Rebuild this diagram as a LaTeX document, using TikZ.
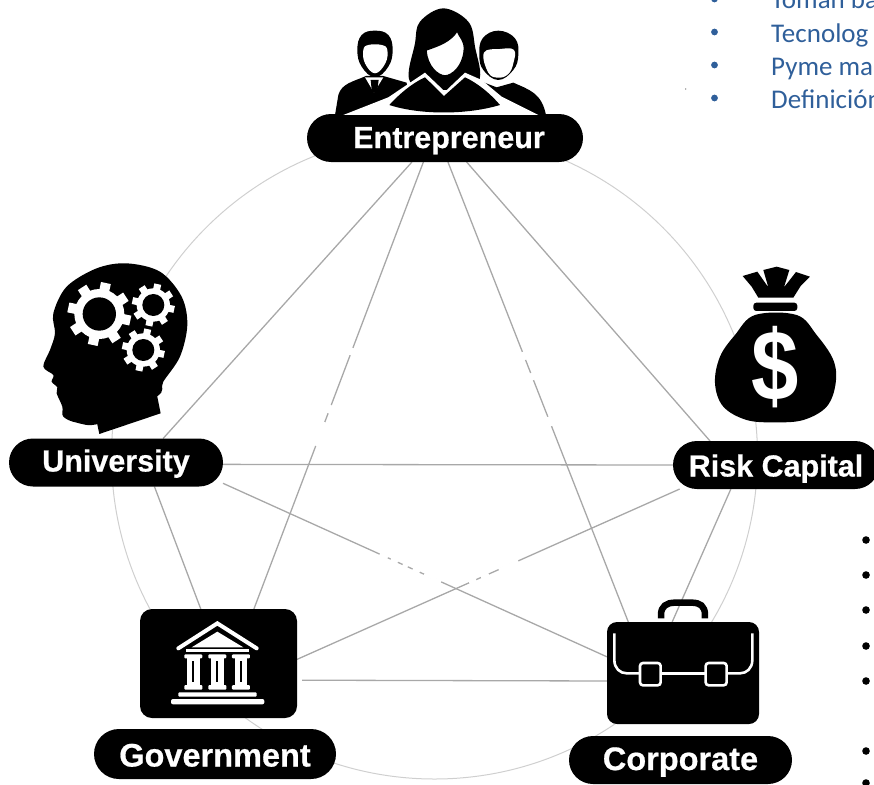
\documentclass[tikz,border=0pt]{standalone}
\usepackage{fontspec}
\usepackage{xcolor}
\usepackage{tikz}
\usetikzlibrary{shapes,positioning,calc,backgrounds}
\newfontfamily\pillfont{Liberation Sans}[BoldFeatures={FakeBold=0.6}]
\newfontfamily\dollarfont{Liberation Sans}
\newfontfamily\listfont{Carlito}
\definecolor{listblue}{HTML}{2F5F9A}
\definecolor{linegray}{HTML}{A8A8A8}
\definecolor{ringgray}{HTML}{CFCFCF}
\tikzset{
  pill/.style={rectangle, fill=black, text=white, outer sep=0pt, inner sep=0pt,
    minimum height=48pt, text depth=0pt, text height=20pt,
    font=\pillfont\bfseries\fontsize{30.5}{32}\selectfont},
  iconbox/.style={rectangle, fill=black, outer sep=0pt, inner sep=0pt},
  connector/.style={draw=linegray, line width=1.3pt},
  linegap/.style={draw=white, line width=3pt},
  listitem/.style={anchor=base west, inner sep=0pt, text=listblue,
    font=\listfont\fontsize{27}{30}\selectfont},
  iconscale/.style={x=0.3333pt, y=-0.3333pt},
}
% white cog: x, y, body radius, tooth length, hole radius, tooth width
\newcommand{\gearicon}[6]{
  \fill[white] (#1,#2) circle (#3);
  \foreach \ang in {0,45,...,315}
    \draw[white, line width=#6pt] (#1,#2) ++(\ang+12:#3-4) -- ++(\ang+12:#4+4);
  \fill[black] (#1,#2) circle (#5);
}
% breaks in a connector: from, to, list of start/end fractions
\newcommand{\gapline}[3]{
  \foreach \ta/\tb in {#3}
    \draw[linegap] ($(#1)!\ta!(#2)$) -- ($(#1)!\tb!(#2)$);
}
\begin{document}
\begin{tikzpicture}[x=1pt, y=-1pt]
\clip (0,0) rectangle (874,784);

% Labels
\node[pill, minimum width=276pt, rounded corners=24pt] (entrepreneur) at (445,138) {\kern8pt Entrepreneur};
\node[pill, minimum width=214pt, rounded corners=24pt, text height=18pt] (university) at (116,462.5) {University};
\node[pill, minimum width=206pt, rounded corners=24pt, text height=23pt] (riskcapital) at (776,465) {Risk Capital};
\node[pill, minimum width=242pt, minimum height=50pt, rounded corners=25pt, text height=25pt,
  font=\pillfont\bfseries\fontsize{32.5}{34}\selectfont] (government) at (215,754) {Government};
\node[pill, minimum width=223pt, rounded corners=24pt,
  font=\pillfont\bfseries\fontsize{32.5}{34}\selectfont] (corporate) at (680.5,760) {Corporate};

% Boxes
\node[iconbox, minimum width=157pt, minimum height=109pt, rounded corners=12pt] (govbox) at (218.5,663.5) {};
\node[iconbox, minimum width=152pt, minimum height=102pt, rounded corners=10pt] (corpbox) at (683,673) {};

% Ring and connectors
\begin{scope}[on background layer]
\node[circle, draw=ringgray, line width=1pt, minimum size=646pt, inner sep=0pt] (ring) at (434.5,456) {};
\draw[connector] (entrepreneur.216) -- (university.27.6);
\draw[connector] (entrepreneur.228.8) -- (govbox.57);
\draw[connector] (entrepreneur.277) -- (corpbox.137.2);
\draw[connector] (entrepreneur.312.5) -- (riskcapital.160.8);
\draw[connector] (university.-1.6) -- (riskcapital.180);
\draw[connector] (university.-32) -- (govbox.108.7);
\draw[connector] (university.-11) -- (corpbox.168.1);
\draw[connector] (riskcapital.194.5) -- (govbox.3.3);
\draw[connector] (riskcapital.208.6) -- (corpbox.102.2);
\draw[connector, shorten <=5pt] (govbox.-12.5) -- (corpbox.186);
\gapline{entrepreneur.228.8}{govbox.57}{0.416/0.432, 0.544/0.562, 0.582/0.635}
\gapline{entrepreneur.277}{corpbox.137.2}{0.413/0.430, 0.459/0.474, 0.554/0.574}
\gapline{university.-11}{corpbox.168.1}{0.408/0.429, 0.437/0.455, 0.468/0.481, 0.494/0.512, 0.524/0.568}
\gapline{riskcapital.194.5}{govbox.3.3}{0.422/0.473, 0.499/0.519, 0.532/0.550}
\end{scope}

% Team icon
\begin{scope}[shift={(300,0)}, iconscale]
\fill plot[smooth cycle, tension=0.6] coordinates {(330,245) (345,130) (360,65) (430,25) (505,65) (525,140) (535,245) (430,270)};
% left man
\fill plot[smooth cycle, tension=0.7] coordinates {(172,150) (185,105) (225,92) (265,105) (278,150) (265,200) (225,232) (185,200)};
\fill[white] plot[smooth cycle, tension=0.7] coordinates {(190,150) (205,135) (245,135) (262,150) (256,190) (225,220) (195,190)};
\fill (105,345) -- (115,285) .. controls (125,250) and (160,245) .. (198,228) -- (250,228) -- (320,248) -- (330,345) -- cycle;
\fill[white] (195,232) -- (222,278) -- (250,232) -- cycle;
\fill (212,240) -- (236,240) -- (231,278) -- (216,278) -- cycle;
% right man
\fill (545,345) -- (548,246) -- (590,262) -- (640,248) .. controls (690,270) and (725,280) .. (738,345) -- cycle;
\fill plot[smooth cycle, tension=0.7] coordinates {(538,165) (548,115) (595,92) (645,115) (655,165) (640,210) (595,240) (550,210)};
\fill[white] plot[smooth cycle, tension=0.7] coordinates {(552,158) (600,147) (642,150) (640,190) (625,222) (595,233) (565,218)};
% woman
\fill[white] (130,345) -- (265,292) -- (375,218) -- (435,275) -- (495,218) -- (545,240) -- (605,290) -- (715,345) -- cycle;
\fill (268,315) .. controls (295,285) and (335,250) .. (375,232) -- (432,288) -- (495,232) .. controls (535,250) and (575,285) .. (600,315) .. controls (500,345) and (360,345) .. (268,315) -- cycle;
\filldraw[fill=white, draw=black, line width=1.6pt] (378,150) .. controls (420,135) and (450,125) .. (472,92) .. controls (480,115) and (495,120) .. (493,150) .. controls (490,200) and (455,228) .. (435,228) .. controls (415,228) and (380,200) .. (378,150) -- cycle;
\end{scope}

% Head icon
\begin{scope}[shift={(0,250)}, iconscale]
\fill plot[smooth cycle, tension=0.55] coordinates {(380,40) (480,65) (545,140) (562,225) (540,320) (490,395) (470,440) (300,520) (230,518) (190,500) (187,470) (170,430) (172,412) (155,395) (160,375) (130,350) (150,300) (165,250) (160,190) (200,110) (290,55)};
\fill (470,430) -- (482,490) -- (298,552) -- (285,490) -- cycle;
\gearicon{298}{192}{75}{20}{50}{10}
\gearicon{460}{165}{50}{14}{33}{7}
\gearicon{430}{300}{50}{14}{33}{7}
\end{scope}

% Money bag icon
\begin{scope}[shift={(670,260)}, iconscale]
\fill (218,48) -- (262,35) -- (295,82) -- (280,30) -- (320,20) -- (358,30) -- (342,82) -- (378,36) -- (420,50) -- (392,78) -- (370,113) -- (265,113) -- (245,80) -- cycle;
\fill[rounded corners=3pt] (250,128) rectangle (382,153);
\fill plot[smooth cycle, tension=0.6] coordinates {(255,165) (380,165) (440,225) (490,300) (497,370) (470,440) (400,480) (315,487) (230,480) (160,440) (135,370) (150,290) (195,225)};
\end{scope}
\node[text=white, inner sep=0pt, xscale=0.85, font=\dollarfont\bfseries\fontsize{100}{100}\selectfont] (dollar) at (775,367) {\$};

% Government icon
\begin{scope}[shift={(165,615)}, iconscale]
\draw[white, line width=4pt, line cap=round, line join=miter] (40,100) -- (157,25) -- (275,100);
\fill[white] (80,97) -- (157,50) -- (235,97) -- cycle;
\fill[white] (62,102) rectangle (252,110);
\foreach \colx in {85,157,228} {
  \fill[white, rounded corners=1pt] (\colx-27,118) rectangle (\colx+27,130);
  \fill[white] (\colx-19,130) rectangle (\colx+19,212);
  \fill[black] (\colx-3,137) rectangle (\colx+3,200);
  \fill[white, rounded corners=1pt] (\colx-27,210) rectangle (\colx+27,224);
}
\fill[white, rounded corners=1pt] (40,232) rectangle (275,245);
\fill[white, rounded corners=2pt] (18,252) rectangle (298,268);
\end{scope}

% Briefcase icon
\begin{scope}[shift={(560,520)}, iconscale]
\draw[line width=6.5pt] (303,295) -- (303,285) .. controls (303,258) and (320,248) .. (345,248) -- (395,248) .. controls (420,248) and (435,258) .. (435,285) -- (435,295);
\draw[white, line width=2.6pt] (163,340) -- (163,420) .. controls (163,445) and (180,460) .. (200,460) -- (240,460);
\draw[white, line width=2.6pt] (300,460) -- (437,460);
\draw[white, line width=2.6pt] (577,340) -- (577,420) .. controls (577,445) and (560,460) .. (540,460) -- (500,460);
\draw[white, line width=2.6pt, rounded corners=3pt] (240,429) rectangle (302,496);
\draw[white, line width=2.6pt, rounded corners=3pt] (437,429) rectangle (500,496);
\end{scope}

% Cut off list, top right
\node[listitem] (toman) at (771,8.5) {Toman ba};
\node[listitem] (tecnolog) at (771,42) {Tecnolog};
\node[listitem] (pyme) at (771,75) {Pyme ma};
\node[listitem] (definicion) at (771,108) {Definición};
\foreach \ypos in {-1,32,65,98}
  \fill[listblue] (714.5,\ypos) circle (3.4);
\fill[black!70] (685.7,89) circle (0.6);

% Cut off list, bottom right
\foreach \ypos in {540,575,610,646,681,751,783}
  \fill (866,\ypos) circle (3.8);
\end{tikzpicture}
\end{document}
